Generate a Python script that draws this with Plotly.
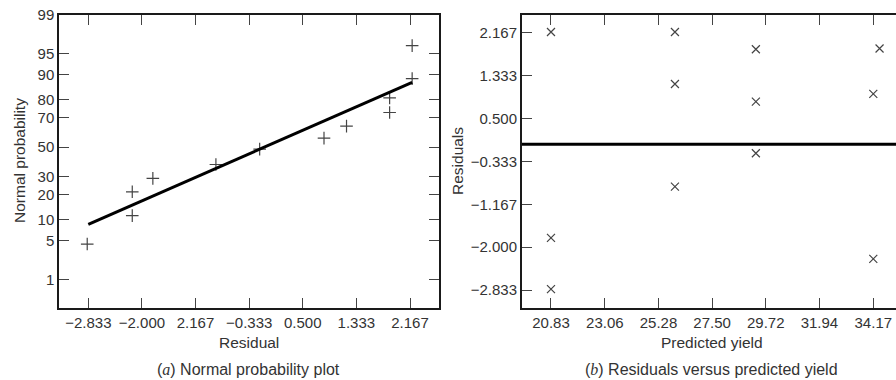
import statistics
import plotly.graph_objects as go

nd = statistics.NormalDist()

# ---------------- data ----------------
# (a) normal probability plot
residual_sorted = [-2.85, -2.15, -2.15, -1.83, -0.85, -0.17, 0.83, 1.18, 1.85, 1.85, 2.20, 2.20]
normal_prob = [4.4, 11.4, 21.6, 29.1, 38.0, 48.6, 56.3, 64.4, 72.9, 80.7, 88.6, 96.3]
fit_residual = [-2.833, 2.20]
fit_prob = [8.7, 87.3]
left_x_tickvals = [-2.833, -2.000, -1.167, -0.333, 0.500, 1.333, 2.167]
left_x_ticktext = ["\u22122.833", "\u22122.000", "2.167", "\u22120.333", "0.500", "1.333", "2.167"]
prob_ticks = [1, 5, 10, 20, 30, 50, 70, 80, 90, 95, 99]

# (b) residuals versus predicted yield
predicted = [20.83, 25.96, 29.31, 34.43, 25.96, 29.31, 34.17, 29.31, 25.96, 20.83, 34.17, 20.83]
residuals = [2.18, 2.18, 1.845, 1.86, 1.171, 0.827, 0.977, -0.175, -0.823, -1.82, -2.227, -2.816]
right_x_tickvals = [20.83, 23.06, 25.28, 27.50, 29.72, 31.94, 34.17]
right_x_ticktext = ["20.83", "23.06", "25.28", "27.50", "29.72", "31.94", "34.17"]
right_y_tickvals = [2.167, 1.333, 0.500, -0.333, -1.167, -2.000, -2.833]
right_y_ticktext = ["2.167", "1.333", "0.500", "\u22120.333", "\u22121.167", "\u22122.000", "\u22122.833"]


def z(p):
    return nd.inv_cdf(p / 100.0)


W, H = 896, 380
FONT = "Liberation Sans, Arial, Helvetica, sans-serif"
TXT = "#333333"
LINE = "#1a1a1a"
TICKC = "#444444"


def px_x(p):
    return p / W


def px_y(p):
    return 1 - p / H


fig = go.Figure()

fig.add_trace(go.Scatter(
    x=residual_sorted, y=[z(p) for p in normal_prob], mode="markers",
    marker=dict(symbol="cross-thin", size=9, line=dict(width=1.2, color="#444444")),
    xaxis="x", yaxis="y", showlegend=False, hoverinfo="skip"))
fig.add_trace(go.Scatter(
    x=fit_residual, y=[z(p) for p in fit_prob], mode="lines",
    line=dict(color="#000000", width=3),
    xaxis="x", yaxis="y", showlegend=False, hoverinfo="skip"))

fig.add_trace(go.Scatter(
    x=predicted, y=residuals, mode="markers",
    marker=dict(symbol="x-thin", size=8, line=dict(width=1.2, color="#444444")),
    xaxis="x2", yaxis="y2", showlegend=False, hoverinfo="skip"))

ydom = [px_y(307.7), px_y(15)]

common = dict(showgrid=False, zeroline=False, showline=True, linecolor=LINE, linewidth=2,
              ticks="inside", ticklen=10, tickwidth=1.3, tickcolor=TICKC, automargin=False,
              tickfont=dict(family=FONT, size=15, color=TXT))

fig.update_layout(
    width=W, height=H,
    margin=dict(l=0, r=0, t=0, b=0, autoexpand=False),
    paper_bgcolor="white", plot_bgcolor="white",
    xaxis=dict(domain=[px_x(59.3), px_x(439.3)], range=[-3.284, 2.622],
               tickvals=left_x_tickvals, ticktext=left_x_ticktext,
               mirror="ticks", anchor="y", **common),
    yaxis=dict(domain=ydom, range=[-2.826, 2.326],
               tickvals=[z(p) for p in prob_ticks], ticktext=[str(p) for p in prob_ticks],
               mirror="ticks", anchor="x", **common),
    xaxis2=dict(domain=[px_x(522), 1.0], range=[19.63, 35.11],
                tickvals=right_x_tickvals, ticktext=right_x_ticktext,
                mirror="ticks", anchor="y2", **common),
    yaxis2=dict(domain=ydom, range=[-3.177, 2.511],
                tickvals=right_y_tickvals, ticktext=right_y_ticktext,
                mirror=False, anchor="x2", **common),
    yaxis3=dict(domain=ydom, range=[-3.177, 2.511], overlaying="y2", side="right", anchor="x2",
                tickvals=right_y_tickvals, showticklabels=False, showgrid=False, zeroline=False,
                automargin=False,
                showline=False, ticks="inside", ticklen=5, tickwidth=1.3, tickcolor=TICKC),
)

fig.add_shape(type="line", xref="x2 domain", yref="y2", x0=0, x1=1, y0=0, y1=0,
              line=dict(color="#000000", width=3))

ann_font = dict(family=FONT, size=15.5, color=TXT)
anns = [
    dict(text="Residual", x=px_x(249), y=px_y(342.3)),
    dict(text="Predicted yield", x=px_x(711.7), y=px_y(342.3)),
    dict(text="Normal probability", x=px_x(19), y=px_y(161), textangle=-90),
    dict(text="Residuals", x=px_x(457), y=px_y(161), textangle=-90),
    dict(text='(<span style="font-family:Liberation Serif"><i>a</i></span>) Normal probability plot',
         x=px_x(248), y=px_y(369.3), font=dict(family=FONT, size=16, color=TXT)),
    dict(text='(<span style="font-family:Liberation Serif"><i>b</i></span>) Residuals versus predicted yield',
         x=px_x(711.7), y=px_y(369.3), font=dict(family=FONT, size=16, color=TXT)),
]
for a in anns:
    a.setdefault("font", ann_font)
    fig.add_annotation(xref="paper", yref="paper", showarrow=False,
                       xanchor="center", yanchor="middle", **a)

fig.write_html("out.html", config={"displayModeBar": False},
               post_script="document.body.style.margin='0';document.body.style.overflow='hidden';")
